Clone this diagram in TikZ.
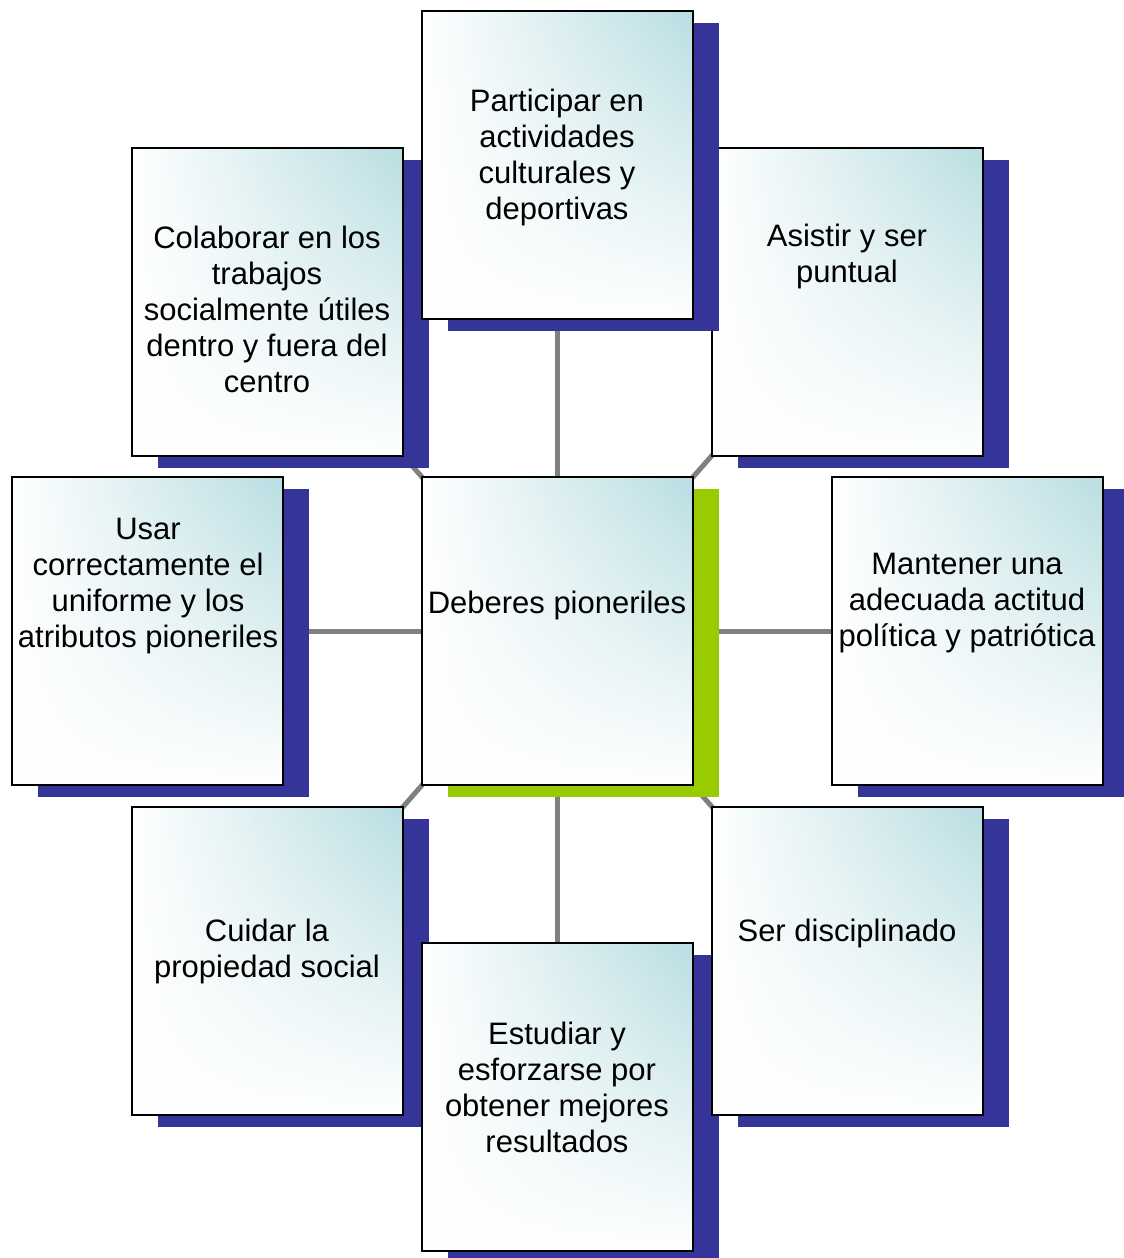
\documentclass[tikz,border=0pt]{standalone}
\usepackage{fontspec}
\setmainfont{Liberation Sans}
\usepackage{tikz}
\usetikzlibrary{shadows,fadings,backgrounds}

\definecolor{cajaazul}{RGB}{185,222,226}
\definecolor{sombraazul}{RGB}{53,52,153}
\definecolor{sombraverde}{RGB}{153,204,0}
\definecolor{lineagris}{RGB}{128,128,128}
\tikzfading[name=cajafade, top color=transparent!100, middle color=transparent!80, bottom color=transparent!0]

\begin{document}
\begin{tikzpicture}[x=1pt,y=-1pt,
	caja/.style={rectangle, minimum width=271pt, minimum height=308pt, inner sep=0pt,
		left color=white, middle color=cajaazul!60, right color=cajaazul,
		drop shadow={shadow xshift=26pt, shadow yshift=-12pt, fill=#1, opacity=1},
		postaction={fill=white, path fading=cajafade},
		postaction={draw=black, line width=2pt}},
	caja/.default=sombraazul,
	texto/.style={align=center, font=\fontsize{31pt}{36pt}\selectfont},
	conector/.style={draw=lineagris, line width=5pt}]
	\useasboundingbox (0,0) rectangle (1124,1258);
	% cajas
	\node[caja=sombraverde] (centro) at (557.5,631) {};
	\node[caja] (asistir) at (847.5,301.5) {};
	\node[caja] (mantener) at (967.5,631) {};
	\node[caja] (cuidar) at (267.5,961) {};
	\node[caja] (estudiar) at (557.5,1097) {};
	\node[caja] (ser) at (847.5,961) {};
	\node[caja] (usar) at (147.5,631) {};
	\node[caja] (colaborar) at (267.5,301.5) {};
	\node[caja] (participar) at (557.5,164.5) {};
	% conectores
	\begin{pgfonlayer}{background}
		\foreach \b in {participar,asistir,mantener,ser,estudiar,cuidar,usar,colaborar}
			\draw[conector] (centro.center) -- (\b.center);
	\end{pgfonlayer}
	% textos
	\node[texto] (t-centro) at (557,605) {Deberes pioneriles};
	\node[texto] (t-participar) at (557,157) {Participar en\\actividades\\culturales y\\deportivas};
	\node[texto] (t-asistir) at (847,256) {Asistir y ser\\puntual};
	\node[texto] (t-colaborar) at (267,309) {Colaborar en los\\trabajos\\socialmente útiles\\dentro y fuera del\\centro};
	\node[texto] (t-usar) at (148,586) {Usar\\correctamente el\\uniforme y los\\atributos pioneriles};
	\node[texto] (t-mantener) at (967,603) {Mantener una\\adecuada actitud\\política y patriótica};
	\node[texto] (t-cuidar) at (267,951) {Cuidar la\\propiedad social};
	\node[texto] (t-ser) at (847,933) {Ser disciplinado};
	\node[texto] (t-estudiar) at (557,1087) {Estudiar y\\esforzarse por\\obtener mejores\\resultados};
\end{tikzpicture}
\end{document}
